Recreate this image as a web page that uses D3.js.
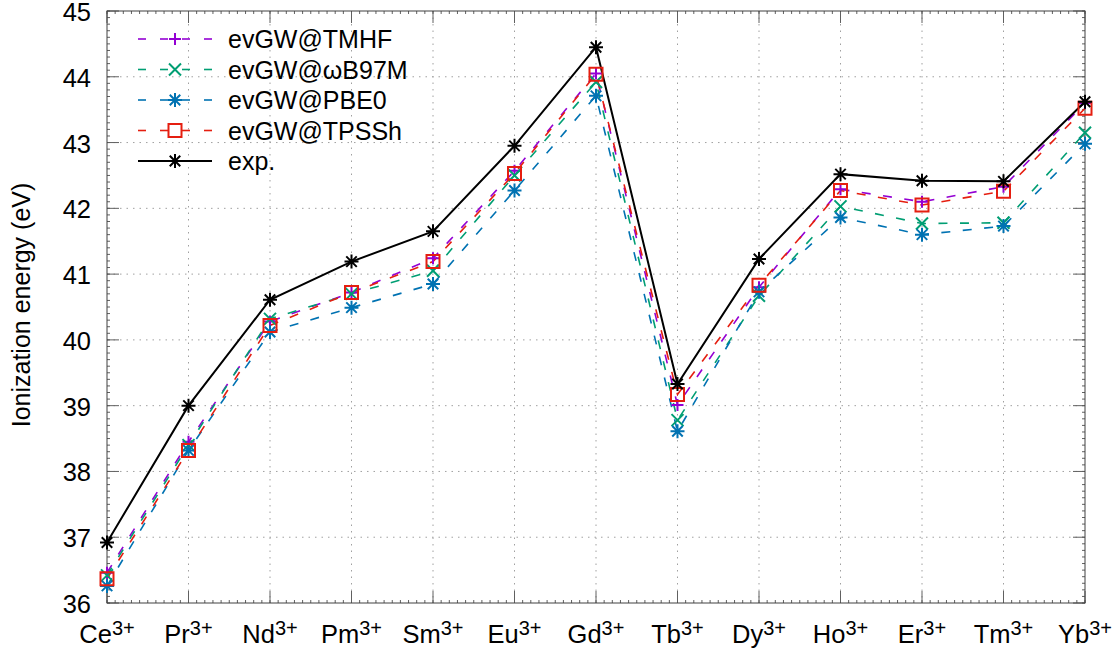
<!DOCTYPE html>
<html>
<script src='https://d3js.org/d3.v7.min.js'></script>
<style>
 body {margin:0; background:#fff;}
 text {font-family: 'Liberation Sans', Arial, sans-serif; fill:#000;}
</style>
<body onload='init()'>
<svg width=1120 height=654></svg>
<script>
// data
var ions = ['Ce','Pr','Nd','Pm','Sm','Eu','Gd','Tb','Dy','Ho','Er','Tm','Yb'];
var yTicks = [36,37,38,39,40,41,42,43,44,45];
var names = ['evGW@TMHF','evGW@\u03c9B97M','evGW@PBE0','evGW@TPSSh','exp.'];
var tmhf  = [36.46,38.45,40.28,40.72,41.24,42.57,44.05,39.01,40.80,42.29,42.10,42.33,43.60];
var wb97m = [36.42,38.40,40.32,40.70,41.05,42.50,43.92,38.78,40.67,42.03,41.77,41.78,43.15];
var pbe0  = [36.26,38.32,40.12,40.49,40.85,42.27,43.71,38.61,40.73,41.86,41.60,41.73,42.98];
var tpssh = [36.37,38.32,40.22,40.72,41.19,42.53,44.04,39.17,40.83,42.27,42.05,42.26,43.52];
var expt  = [36.92,39.00,40.61,41.19,41.65,42.95,44.45,39.33,41.23,42.52,42.42,42.41,43.62];

function init() {
  var svg = d3.select('svg');
  var L = 107, R = 1085, T = 11, B = 603;
  var x = d3.scalePoint().domain(ions).range([L,R]);
  var y = d3.scaleLinear().domain([36,45]).range([B,T]);

  var series = [
    {name:names[0], v:tmhf,  c:'#9400d3', m:'plus',   dash:true},
    {name:names[1], v:wb97m, c:'#009e73', m:'cross',  dash:true},
    {name:names[2], v:pbe0,  c:'#0072b2', m:'star',   dash:true},
    {name:names[3], v:tpssh, c:'#e51e10', m:'square', dash:true},
    {name:names[4], v:expt,  c:'#000000', m:'star',   dash:false}
  ];

  // grid
  var g = svg.append('g');
  g.selectAll('.gy').data(yTicks.slice(1,-1)).enter().append('line')
    .attr('x1',L).attr('x2',R).attr('y1',d=>y(d)).attr('y2',d=>y(d))
    .attr('stroke','#a0a0a0').attr('stroke-width',1).attr('stroke-dasharray','1.5,5');
  g.selectAll('.gx').data(ions.slice(1,-1)).enter().append('line')
    .attr('x1',d=>x(d)).attr('x2',d=>x(d)).attr('y1',T).attr('y2',B)
    .attr('stroke','#a0a0a0').attr('stroke-width',1).attr('stroke-dasharray','1.5,5');

  // minor ticks
  var minorY = d3.range(36,45.001,0.1);
  var step = x.step();
  var minorX = d3.range(0,12.001,0.1).map(i=>L+i*step);
  var tk = svg.append('g').attr('stroke','#606060').attr('stroke-width',1);
  minorY.forEach(function(v){
    tk.append('line').attr('x1',L).attr('x2',L+3).attr('y1',y(v)).attr('y2',y(v));
    tk.append('line').attr('x1',R-3).attr('x2',R).attr('y1',y(v)).attr('y2',y(v));
  });
  minorX.forEach(function(px){
    tk.append('line').attr('x1',px).attr('x2',px).attr('y1',B).attr('y2',B-3);
    tk.append('line').attr('x1',px).attr('x2',px).attr('y1',T).attr('y2',T+3);
  });
  // major ticks
  yTicks.forEach(function(v){
    tk.append('line').attr('x1',L).attr('x2',L+12).attr('y1',y(v)).attr('y2',y(v));
    tk.append('line').attr('x1',R-12).attr('x2',R).attr('y1',y(v)).attr('y2',y(v));
  });
  ions.forEach(function(d){
    tk.append('line').attr('x1',x(d)).attr('x2',x(d)).attr('y1',B).attr('y2',B-12);
    tk.append('line').attr('x1',x(d)).attr('x2',x(d)).attr('y1',T).attr('y2',T+12);
  });

  // border
  svg.append('rect').attr('x',L).attr('y',T).attr('width',R-L).attr('height',B-T)
    .attr('fill','none').attr('stroke','#404040').attr('stroke-width',1);

  // y tick labels
  svg.append('g').selectAll('text').data(yTicks).enter().append('text')
    .attr('x',91).attr('y',d=>y(d)+10).attr('text-anchor','end')
    .attr('font-size',25.5).text(d=>d);

  // x tick labels with superscript
  var xl = svg.append('g').selectAll('text').data(ions).enter().append('text')
    .attr('x',d=>x(d)).attr('y',643).attr('text-anchor','middle').attr('font-size',25.5);
  xl.append('tspan').text(d=>d);
  xl.append('tspan').attr('dy',-8).attr('font-size',20).text('3+');

  // y label
  svg.append('text').attr('transform','translate(30,305) rotate(-90)')
    .attr('text-anchor','middle').attr('font-size',25).text('Ionization energy (eV)');

  function marker(sel, type, color, s) {
    var p;
    if (type=='plus') p = 'M'+(-s)+',0H'+s+'M0,'+(-s)+'V'+s;
    else if (type=='cross') p = 'M'+(-s)+','+(-s)+'L'+s+','+s+'M'+(-s)+','+s+'L'+s+','+(-s);
    else if (type=='star') p = 'M'+(-s)+',0H'+s+'M0,'+(-s)+'V'+s+'M'+(-s*0.75)+','+(-s*0.75)+'L'+(s*0.75)+','+(s*0.75)+'M'+(-s*0.75)+','+(s*0.75)+'L'+(s*0.75)+','+(-s*0.75);
    else p = 'M'+(-s)+','+(-s)+'H'+s+'V'+s+'H'+(-s)+'Z';
    sel.append('path').attr('d',p).attr('fill','none').attr('stroke',color).attr('stroke-width',2);
  }

  var line = d3.line().x((d,i)=>x(ions[i])).y(d=>y(d));
  series.forEach(function(s){
    svg.append('path').datum(s.v).attr('d',line).attr('fill','none')
      .attr('stroke',s.c).attr('stroke-width',s.dash?1.6:2)
      .attr('stroke-dasharray',s.dash?'9,12.5':null);
  });
  series.forEach(function(s){
    var sz = s.m=='square'?6.5:(s.m=='star'?7:6);
    s.v.forEach(function(v,i){
      var gg = svg.append('g').attr('transform','translate('+x(ions[i])+','+y(v)+')');
      marker(gg, s.m, s.c, sz);
    });
  });

  // legend
  var lg = svg.append('g');
  series.forEach(function(s,i){
    var yy = 39 + i*30.5;
    var row = lg.append('g').attr('transform','translate(0,'+yy+')');
    if (s.dash) {
      [[138,146],[160,168],[182,190],[204,212]].forEach(function(seg){
        row.append('line').attr('x1',seg[0]).attr('x2',seg[1]).attr('y1',0).attr('y2',0)
          .attr('stroke',s.c).attr('stroke-width',1.6);
      });
    } else {
      row.append('line').attr('x1',138).attr('x2',212).attr('y1',0).attr('y2',0)
        .attr('stroke',s.c).attr('stroke-width',2);
    }
    var mg = row.append('g').attr('transform','translate(175,0)');
    if (s.m=='square') mg.append('rect').attr('x',-6.5).attr('y',-6.5).attr('width',13).attr('height',13).attr('fill','#fff');
    marker(mg, s.m, s.c, s.m=='square'?6.5:(s.m=='star'?7:6));
    row.append('text').attr('x',228).attr('y',9).attr('font-size',25).text(s.name);
  });
}
</script>
</body>
</html>
